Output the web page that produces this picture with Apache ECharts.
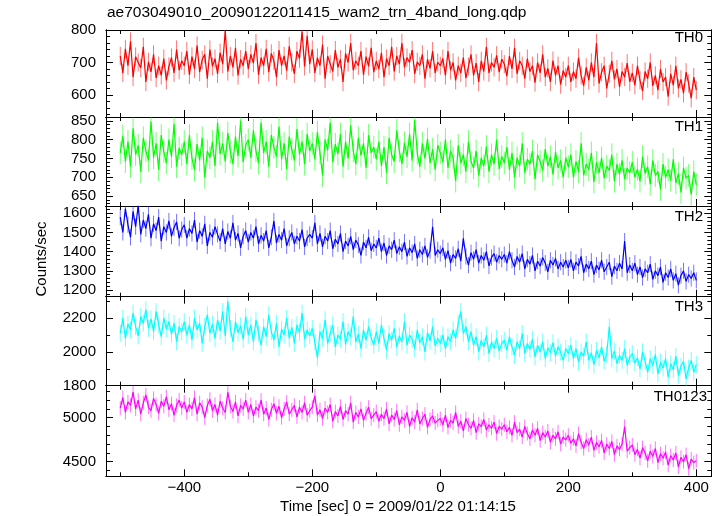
<!DOCTYPE html>
<html><head><meta charset="utf-8">
<script src="https://cdn.jsdelivr.net/npm/echarts@6/dist/echarts.min.js"></script>
<style>html,body{margin:0;padding:0;background:#fff}#c{width:723px;height:516px}</style>
</head><body><div id="c"></div>
<script>
// ---------------- DATA ----------------
const chartTitle = 'ae703049010_20090122011415_wam2_trn_4band_long.qdp';
const xAxisTitle = 'Time [sec] 0 = 2009/01/22 01:14:15';
const yAxisTitle = 'Counts/sec';
const bandNames = ['TH0', 'TH1', 'TH2', 'TH3', 'TH0123'];
const timeStart = -500;   // first bin time (sec)
const timeStep = 4;       // bin width (sec)
const binErrors = [28, 30, 42, 50, 80];   // typical 1-sigma error per band (counts/sec)

const th0 = [
 720,668,742,690,765,655,718,700,683,748,640,702,671,725,652,690,660,712,645,688,715,668,740,676,705,
 690,735,662,718,680,752,670,708,725,650,740,688,712,665,730,695,798,672,720,685,745,660,710,690,735,
 680,725,698,760,662,715,690,742,670,728,705,655,738,690,720,675,750,700,665,735,712,795,688,782,695,
 740,668,715,690,755,650,720,695,672,738,685,710,640,728,700,760,676,705,690,735,662,718,688,745,670,
 705,680,730,655,712,690,748,672,720,695,760,685,715,700,738,665,702,690,725,650,710,682,735,668,700,
 690,712,660,735,676,700,645,690,668,715,652,688,725,660,698,640,705,672,748,668,700,685,722,670,710,
 695,658,720,680,745,665,705,690,650,712,672,690,638,700,668,725,655,682,640,706,660,690,632,675,655,
 690,640,672,650,715,660,628,685,645,700,655,760,635,670,690,620,665,705,648,680,625,672,655,698,640,
 668,630,690,645,612,672,650,700,628,660,615,680,640,655,595,665,630,690,620,648,605,670,635,590,655,
 615
];
const th1 = [
 765,810,742,795,728,830,760,785,715,805,770,745,848,752,790,720,812,768,738,800,755,842,728,778,760,
 795,735,812,750,720,788,745,805,700,770,752,795,730,845,762,790,742,818,768,735,808,756,850,740,785,
 800,752,825,770,738,845,765,795,728,812,780,755,835,748,790,722,808,775,745,828,760,795,735,815,770,
 790,748,820,765,705,800,772,845,740,788,762,815,728,795,750,838,770,735,805,758,790,725,812,765,780,
 748,795,730,780,712,805,760,742,825,770,735,792,755,815,745,852,765,728,790,750,802,738,775,720,785,
 765,740,800,725,770,752,690,785,738,760,715,795,742,725,770,705,752,730,782,715,760,735,800,722,755,
 738,780,720,765,700,752,730,790,712,748,735,770,695,760,742,718,775,730,755,708,768,725,745,700,752,
 728,760,700,742,715,790,705,735,720,765,688,740,712,752,698,730,718,760,690,735,708,745,695,725,712,
 740,700,722,690,755,710,728,682,745,705,715,668,735,700,720,692,748,685,710,660,725,698,705,655,715,
 680
];
const th2 = [
 1580,1500,1625,1540,1475,1610,1530,1640,1490,1565,1520,1595,1470,1545,1510,1580,1455,1530,1500,1560,1480,1525,1555,1470,1515,
 1540,1470,1520,1495,1565,1450,1510,1480,1545,1430,1500,1475,1530,1490,1455,1520,1440,1505,1470,1550,1460,1495,1420,1480,1510,
 1450,1500,1470,1530,1440,1485,1455,1510,1420,1475,1560,1445,1490,1460,1520,1430,1470,1500,1440,1480,1455,1515,1425,1470,1490,
 1470,1550,1440,1495,1425,1480,1455,1510,1415,1465,1440,1495,1400,1455,1430,1480,1410,1460,1435,1380,1450,1420,1475,1405,1440,
 1420,1470,1400,1445,1380,1430,1410,1460,1390,1425,1400,1450,1375,1420,1395,1440,1365,1410,1385,1430,1370,1405,1530,1380,1410,
 1390,1420,1360,1405,1340,1385,1365,1415,1350,1470,1375,1330,1395,1360,1410,1340,1380,1355,1400,1325,1370,1390,1345,1380,1360,
 1385,1340,1400,1355,1320,1375,1345,1390,1310,1360,1335,1380,1300,1350,1325,1370,1340,1295,1355,1330,1365,1310,1345,1320,1355,
 1315,1360,1300,1345,1325,1375,1290,1335,1310,1350,1280,1330,1305,1355,1295,1320,1345,1270,1325,1300,1340,1310,1455,1290,1330,
 1300,1340,1280,1320,1265,1310,1290,1335,1255,1300,1275,1320,1240,1290,1265,1310,1250,1285,1225,1275,1300,1245,1280,1260,1290,
 1250
];
const th3 = [
 2110,2200,2080,2165,2130,2230,2150,2095,2210,2170,2250,2140,2195,2120,2240,2160,2090,2200,2135,2180,2105,2170,2060,2150,2120,
 2180,2100,2160,2070,2200,2130,2170,2050,2150,2220,2110,2165,2080,2190,2125,2240,2095,2300,2140,2060,2180,2115,2155,2075,2210,
 2100,2160,2060,2190,2110,2040,2150,2090,2220,2120,2070,2170,2030,2135,2100,2200,2080,2145,2050,2160,2115,2230,2075,2130,2095,
 2140,2060,1965,2120,2080,2190,2050,2110,2160,2030,2100,2075,2180,2045,2120,2090,2210,2060,2105,2020,2130,2070,2150,2085,2040,
 2120,2050,2160,2080,2010,2110,2070,2140,2030,2095,2060,2180,2040,2100,2075,2020,2130,2055,2090,2000,2115,2065,2150,2035,2080,
 2050,2100,2020,2090,2060,2130,2080,2170,2240,2110,2150,2060,2120,2040,2090,2000,2070,2030,2100,1990,2060,2020,2080,2005,2050,
 2070,2010,2090,2030,1980,2060,2020,2110,1990,2050,2015,2075,1970,2040,2000,2060,1960,2025,1995,2055,1975,2030,2000,1950,2020,
 1990,2040,1960,2020,1940,2000,1975,2060,1950,1995,1925,2010,1965,2030,1945,1985,2150,1960,2005,1930,1980,1950,2020,1920,1970,
 1990,1935,1965,1900,2000,1945,1880,1960,1920,1985,1870,1940,1905,1960,1850,1930,1895,1975,1860,1915,1945,1840,1905,1950,1880,
 1925
];
const th0123 = [
 5110,5230,5060,5180,5140,5290,5100,5200,5040,5170,5260,5120,5080,5220,5150,5050,5190,5130,5240,5090,5160,5030,5140,5200,5110,
 5180,5060,5150,5100,5230,5040,5170,5120,5000,5140,5210,5080,5150,5030,5190,5110,5060,5290,5130,5070,5180,5020,5140,5100,5200,
 5060,5150,5020,5120,5080,5200,5040,5110,4980,5090,5160,5050,5130,5000,5100,5180,5040,5090,5140,5010,5120,5060,5170,5030,5080,
 5120,5250,5030,5090,4990,5110,5060,5150,4960,5070,5020,5130,4980,5080,5040,5170,4950,5060,5010,5100,4970,5050,5120,4990,5030,
 5070,4960,5040,4990,5100,4930,5030,4980,5080,4920,5010,4970,5060,4900,5000,4950,5090,4930,4990,5040,4890,4980,5020,4940,4970,
 4990,4920,5030,4890,4970,4940,5060,4900,4960,4850,4990,4920,4880,4970,4830,4930,4900,4980,4860,4920,4880,4950,4820,4900,4870,
 4920,4840,4890,4800,4950,4830,4870,4780,4900,4820,4760,4860,4800,4880,4740,4830,4780,4850,4720,4800,4760,4840,4700,4780,4750,
 4800,4710,4760,4680,4820,4720,4650,4750,4690,4780,4630,4720,4670,4740,4600,4700,4650,4730,4580,4680,4640,4700,4900,4620,4660,
 4690,4580,4640,4540,4660,4600,4510,4620,4560,4650,4490,4590,4540,4610,4460,4570,4520,4600,4440,4550,4500,4580,4420,4530,4490,
 4510
];

const xTickLabels = [-400, -200, 0, 200, 400];
const xMinorTicks = [-500, -300, -100, 100, 300];
const yTickLabels = [
  [600, 700, 800],
  [650, 700, 750, 800, 850],
  [1200, 1300, 1400, 1500, 1600],
  [1800, 2000, 2200],
  [4500, 5000]
];
const yRanges = [[532, 800], [624, 860], [1165, 1638], [1800, 2327], [4334, 5364]];
const yMinorStep = [20, 10, 20, 100, 100];

// ---------------- LAYOUT / STYLE ----------------
const bands = [th0, th1, th2, th3, th0123];
const colors = ['#ff0000', '#00ff00', '#0000ff', '#00ffff', '#ff00ff'];
const tops = [30, 117, 206, 296.7, 385.7];
const bottoms = [117, 206, 296.7, 385.7, 476.3];
const FONT = '"Liberation Sans", Arial, Helvetica, sans-serif';
const XMIN = -522.3, XMAX = 423.4;
const nameRight = [703, 703, 703, 703, 707];
const nameY = [37.5, 127.3, 216.7, 307.3, 396.7];

function fmt(v) { return v < 0 ? '\u2212' + (-v) : String(v); }

const grids = [], xAxes = [], yAxes = [], series = [];
for (let g = 0; g < 5; g++) {
  grids.push({ left: 106, top: tops[g], width: 605.3, height: bottoms[g] - tops[g] });
  const last = g === 4;
  const mkX = (pos, vals, len, withLabels) => ({
    type: 'value', gridIndex: g, position: pos, min: XMIN, max: XMAX,
    axisLine: { show: true, onZero: false, lineStyle: { color: '#000', width: 1 } },
    axisTick: { show: true, inside: true, length: len, customValues: vals, lineStyle: { color: '#000', width: 1 } },
    axisLabel: withLabels ? { show: true, customValues: xTickLabels, formatter: fmt, fontSize: 15, fontFamily: FONT, color: '#000', margin: 4 } : { show: false },
    splitLine: { show: false }
  });
  xAxes.push(mkX('bottom', xTickLabels, 7, last));
  xAxes.push(mkX('bottom', xMinorTicks, 4, false));
  xAxes.push(mkX('top', xTickLabels, 7, false));
  xAxes.push(mkX('top', xMinorTicks, 4, false));

  const [lo, hi] = yRanges[g];
  const minors = [];
  const st = yMinorStep[g];
  for (let v = Math.ceil(lo / st) * st; v <= hi; v += st) {
    if (!yTickLabels[g].includes(v)) minors.push(v);
  }
  const mkY = (pos, vals, len, withLabels) => ({
    type: 'value', gridIndex: g, position: pos, min: lo, max: hi,
    axisLine: { show: true, onZero: false, lineStyle: { color: '#000', width: 1 } },
    axisTick: { show: true, inside: true, length: len, customValues: vals, lineStyle: { color: '#000', width: 1 } },
    axisLabel: withLabels ? { show: true, customValues: yTickLabels[g], formatter: fmt, fontSize: 15, fontFamily: FONT, color: '#000', margin: 10 } : { show: false },
    splitLine: { show: false }
  });
  yAxes.push(mkY('left', yTickLabels[g], 7, true));
  yAxes.push(mkY('left', minors, 4, false));
  yAxes.push(mkY('right', yTickLabels[g], 7, false));
  yAxes.push(mkY('right', minors, 4, false));

  const color = colors[g];
  const err = binErrors[g];
  // error bars
  series.push({
    type: 'custom', xAxisIndex: 4 * g, yAxisIndex: 4 * g, silent: true, animation: false, clip: true,
    data: bands[g].map((v, i) => [timeStart + i * timeStep, v, err]),
    renderItem: (params, api) => {
      const x = api.value(0), y = api.value(1), e = api.value(2);
      const p1 = api.coord([x, y - e]), p2 = api.coord([x, y + e]);
      return { type: 'line', shape: { x1: p1[0], y1: p1[1], x2: p2[0], y2: p2[1] },
        style: { stroke: color, lineWidth: 1, opacity: 0.55 } };
    }
  });
  series.push({
    type: 'line', xAxisIndex: 4 * g, yAxisIndex: 4 * g,
    data: bands[g].map((v, i) => [timeStart + i * timeStep, v]),
    showSymbol: false, symbol: 'none', silent: true, animation: false,
    lineStyle: { width: 1.2, color }, clip: true
  });
}

const graphics = [
  { type: 'text', left: 107, top: 5, style: { text: chartTitle, font: '15.5px ' + FONT, fill: '#000' } },
  { type: 'text', x: 42, y: 259, rotation: Math.PI / 2, style: { text: yAxisTitle, font: '15px ' + FONT, fill: '#000', textAlign: 'center', textVerticalAlign: 'middle' } },
  { type: 'text', x: 398, y: 507, style: { text: xAxisTitle, font: '15px ' + FONT, fill: '#000', textAlign: 'center', textVerticalAlign: 'middle' } }
];
for (let g = 0; g < 5; g++) {
  graphics.push({ type: 'text', x: nameRight[g], y: nameY[g], z: 10,
    style: { text: bandNames[g], font: '15px ' + FONT, fill: '#000', textAlign: 'right', textVerticalAlign: 'middle' } });
}

const chart = echarts.init(document.getElementById('c'), null, { renderer: 'canvas' });
chart.setOption({
  animation: false,
  backgroundColor: '#fff',
  grid: grids,
  xAxis: xAxes,
  yAxis: yAxes,
  series,
  graphic: graphics
});
</script></body></html>
